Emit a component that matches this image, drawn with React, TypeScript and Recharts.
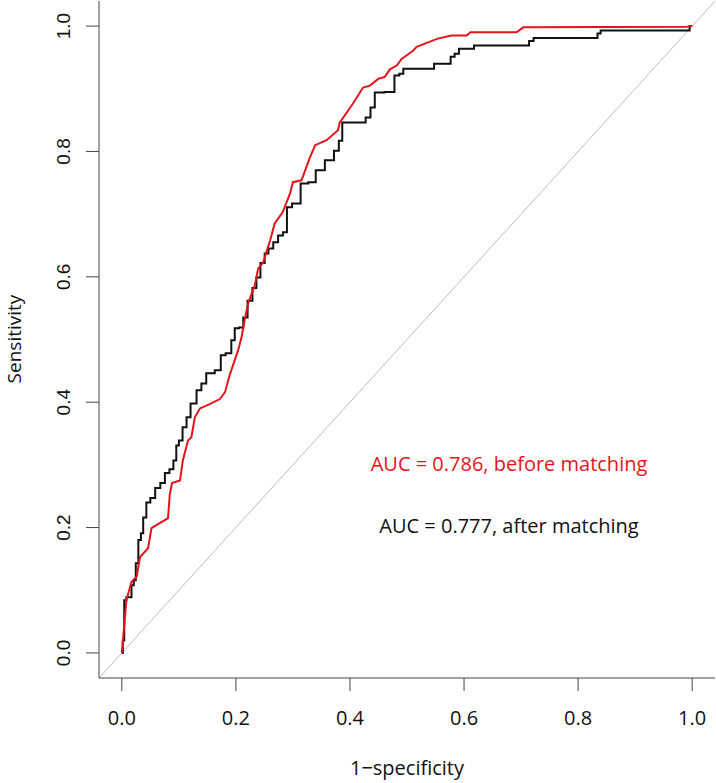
import React from 'react';
import { LineChart, Line, XAxis, YAxis, Customized } from 'recharts';

// ROC curves (x = 1-specificity, y = sensitivity)
const afterX = [0, 0.0035, 0.005, 0.011, 0.015, 0.019, 0.023, 0.026, 0.032, 0.035, 0.04, 0.046, 0.054, 0.063, 0.072, 0.079, 0.088, 0.093, 0.098, 0.102, 0.111, 0.116, 0.125, 0.137, 0.142, 0.154, 0.172, 0.175, 0.189, 0.195, 0.201, 0.21, 0.216, 0.225, 0.233, 0.239, 0.247, 0.254, 0.26, 0.271, 0.277, 0.288, 0.291, 0.306, 0.321, 0.333, 0.347, 0.365, 0.379, 0.382, 0.391, 0.423, 0.432, 0.44, 0.447, 0.474, 0.482, 0.491, 0.496, 0.546, 0.549, 0.575, 0.578, 0.589, 0.593, 0.616, 0.619, 0.712, 0.716, 0.728, 0.833, 0.835, 0.844, 0.991, 1];
const afterY = [0, 0.02, 0.084, 0.089, 0.089, 0.108, 0.116, 0.143, 0.18, 0.191, 0.216, 0.24, 0.247, 0.263, 0.271, 0.287, 0.293, 0.307, 0.331, 0.339, 0.36, 0.376, 0.398, 0.419, 0.43, 0.446, 0.451, 0.475, 0.478, 0.499, 0.518, 0.519, 0.535, 0.562, 0.582, 0.599, 0.622, 0.637, 0.645, 0.655, 0.666, 0.671, 0.711, 0.717, 0.749, 0.751, 0.77, 0.786, 0.801, 0.817, 0.846, 0.846, 0.854, 0.87, 0.894, 0.895, 0.921, 0.924, 0.932, 0.932, 0.94, 0.94, 0.951, 0.956, 0.964, 0.964, 0.969, 0.969, 0.976, 0.981, 0.981, 0.988, 0.993, 0.993, 1];

const beforeX = [0, 0.001, 0.005, 0.008, 0.017, 0.026, 0.032, 0.046, 0.052, 0.081, 0.084, 0.088, 0.102, 0.107, 0.116, 0.122, 0.128, 0.137, 0.154, 0.172, 0.181, 0.189, 0.198, 0.204, 0.21, 0.216, 0.222, 0.228, 0.233, 0.239, 0.248, 0.254, 0.26, 0.268, 0.282, 0.295, 0.3, 0.315, 0.33, 0.339, 0.359, 0.379, 0.382, 0.405, 0.423, 0.435, 0.45, 0.461, 0.47, 0.482, 0.491, 0.496, 0.511, 0.517, 0.537, 0.554, 0.578, 0.605, 0.611, 0.692, 0.701, 0.704, 0.991, 1];
const beforeY = [0, 0.01, 0.052, 0.084, 0.113, 0.122, 0.153, 0.167, 0.199, 0.215, 0.252, 0.271, 0.275, 0.307, 0.339, 0.344, 0.376, 0.39, 0.397, 0.405, 0.416, 0.443, 0.467, 0.483, 0.504, 0.534, 0.559, 0.574, 0.586, 0.613, 0.623, 0.641, 0.658, 0.685, 0.703, 0.733, 0.751, 0.754, 0.791, 0.81, 0.818, 0.834, 0.846, 0.876, 0.902, 0.905, 0.916, 0.919, 0.931, 0.937, 0.948, 0.951, 0.961, 0.967, 0.974, 0.98, 0.985, 0.985, 0.99, 0.99, 0.996, 0.998, 0.999, 1];

const diagonal = [-0.04, 1.04];
const ticks = [0, 0.2, 0.4, 0.6, 0.8, 1];

const afterData = afterX.map((x, i) => ({ x, y: afterY[i] }));
const beforeData = beforeX.map((x, i) => ({ x, y: beforeY[i] }));
const diagData = diagonal.map(v => ({ x: v, y: v }));

const SANS = '"Open Sans", sans-serif';

const XTick = ({ x, payload }: any) => (
    <text x={x} y={725} textAnchor="middle" fontFamily={SANS} fontSize={20} fill="#111">
        {payload.value.toFixed(1)}
    </text>
);

const YTick = ({ y, payload }: any) => (
    <text x={70} y={y} transform={`rotate(-90, 70, ${y})`} textAnchor="middle"
        fontFamily='"Liberation Sans", Arial, sans-serif' fontSize={19} fill="#111">
        {payload.value.toFixed(1)}
    </text>
);

const Annotations = () => (
    <g fontFamily={SANS} fontSize={20}>
        <text x={509} y={471} textAnchor="middle" fill="#e3141b">AUC = 0.786, before matching</text>
        <text x={509} y={533} textAnchor="middle" fill="#111">AUC = 0.777, after matching</text>
        <text x={407} y={775} textAnchor="middle" fill="#111">1−specificity</text>
        <text x={21} y={339} transform="rotate(-90, 21, 339)" textAnchor="middle" fontSize={19} fill="#111">Sensitivity</text>
    </g>
);

export default function App() {
    return (
        <div style={{ width: 716, height: 783, background: '#fff' }}>
            <style>{`body { margin: 0; }`}</style>
            <LineChart width={716} height={783} margin={{ top: 1, right: 1, left: 0, bottom: 0 }}>
                <XAxis type="number" dataKey="x" domain={[-0.04, 1.04]} ticks={ticks} allowDataOverflow
                    height={105} tickSize={13} stroke="#444" tick={<XTick />} />
                <YAxis type="number" dataKey="y" domain={[-0.04, 1.04]} ticks={ticks} allowDataOverflow
                    width={99} tickSize={13} stroke="#444" tick={<YTick />} />
                <Line data={diagData} dataKey="y" type="linear" stroke="#bdbdbd" strokeWidth={1} dot={false} isAnimationActive={false} />
                <Line data={afterData} dataKey="y" type="step" stroke="#111" strokeWidth={2} dot={false} isAnimationActive={false} />
                <Line data={beforeData} dataKey="y" type="linear" stroke="#e3141b" strokeWidth={2} dot={false} isAnimationActive={false} />
                <Customized component={Annotations} />
            </LineChart>
        </div>
    );
}
